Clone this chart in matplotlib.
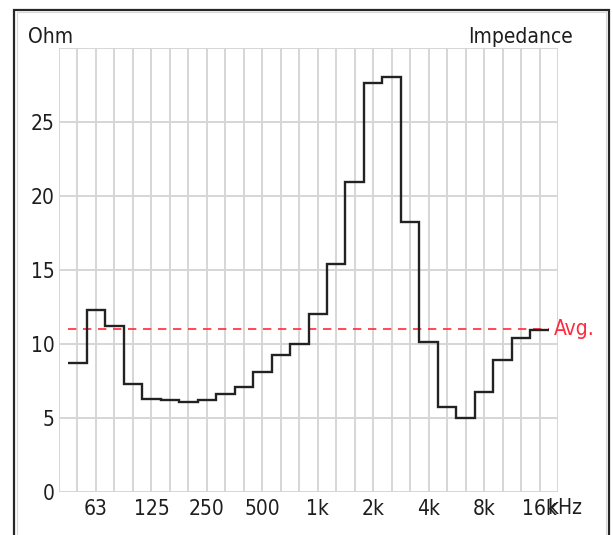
import numpy as np
import matplotlib
matplotlib.use('Agg')
import matplotlib.pyplot as plt
from matplotlib.patches import Rectangle

# third-octave band centres shown on the grid, 40 Hz .. 20 kHz
bands = ['40', '50', '63', '80', '100', '125', '160', '200', '250', '315',
         '400', '500', '630', '800', '1k', '1.25k', '1.6k', '2k', '2.5k',
         '3.15k', '4k', '5k', '6.3k', '8k', '10k', '12.5k', '16k', '20k']
labeled = ['63', '125', '250', '500', '1k', '2k', '4k', '8k', '16k']

# measured impedance in ohm, bands 50 Hz .. 16 kHz
impedance = [8.73, 12.28, 11.2, 7.27, 6.30, 6.21, 6.07, 6.21, 6.59, 7.11,
             8.08, 9.21, 10.0, 12.0, 15.4, 20.95, 27.6, 28.03, 18.26, 10.11,
             5.76, 4.97, 6.77, 8.92, 10.38, 10.93]
yticks = [0, 5, 10, 15, 20, 25]

plt.rcParams['font.family'] = ['DejaVu Sans']
plt.rcParams['font.stretch'] = 'condensed'
plt.rcParams['font.size'] = 15

W, H = 613, 535
fig = plt.figure(figsize=(W / 100, H / 100), dpi=100)
fig.patch.set_facecolor('white')

def px(x, y):
    return x / W, 1 - y / H

# plot box
left, top = px(59, 48)
right, bottom = px(558, 491.7)
ax = fig.add_axes([left, bottom, right - left, top - bottom])

grid_col = '#d6d6d6'
txt_col = '#1e1e1e'
x = np.arange(len(bands))
ax.set_xlim(x[0], x[-1])
ax.set_ylim(0, 30)
for xi in x:
    ax.axvline(xi, color=grid_col, lw=1.4, zorder=1)
for yi in yticks + [30]:
    ax.axhline(yi, color=grid_col, lw=1.4, zorder=1)
for s in ax.spines.values():
    s.set_visible(False)

edges = np.arange(len(impedance) + 1) + 0.5
ax.stairs(impedance, edges, color='#222222', lw=1.7, baseline=None, zorder=3)

avg = np.mean(impedance)
ax.hlines(avg, edges[0], edges[-1], colors='#ff2a3c', lw=1.2,
          linestyles=(0, (5, 4)), zorder=2)
ax.text(edges[-1] + 0.25, avg, 'Avg.', color='#ff2a3c', va='center',
        ha='left', clip_on=False)

ax.set_yticks(yticks)
ax.set_yticklabels([str(v) for v in yticks])
ax.set_xticks([bands.index(b) for b in labeled])
ax.set_xticklabels(labeled)
ax.tick_params(length=0, colors=txt_col)
ax.tick_params(axis='y', pad=3)
ax.tick_params(axis='x', pad=5)

# unit label shares its "k" with the last tick label
fig.text(*px(547, 508), 'kHz', ha='left', va='center', color=txt_col)
fig.text(*px(28, 37), 'Ohm', ha='left', va='center', color=txt_col)
fig.text(*px(573, 37), 'Impedance', ha='right', va='center', color=txt_col)

# window frame
fx0, fy0 = px(14, 560)
fx1, fy1 = px(608.5, 9.5)
fig.patches.append(Rectangle((fx0, fy0), fx1 - fx0, fy1 - fy0,
                             transform=fig.transFigure, fill=False,
                             edgecolor='#262626', lw=1.6))
gx0, gy0 = px(16.5, 560)
gx1, gy1 = px(606, 12)
fig.patches.append(Rectangle((gx0, gy0), gx1 - gx0, gy1 - gy0,
                             transform=fig.transFigure, fill=False,
                             edgecolor='#d8d8d8', lw=0.8))

fig.savefig('out.png', dpi=100)
